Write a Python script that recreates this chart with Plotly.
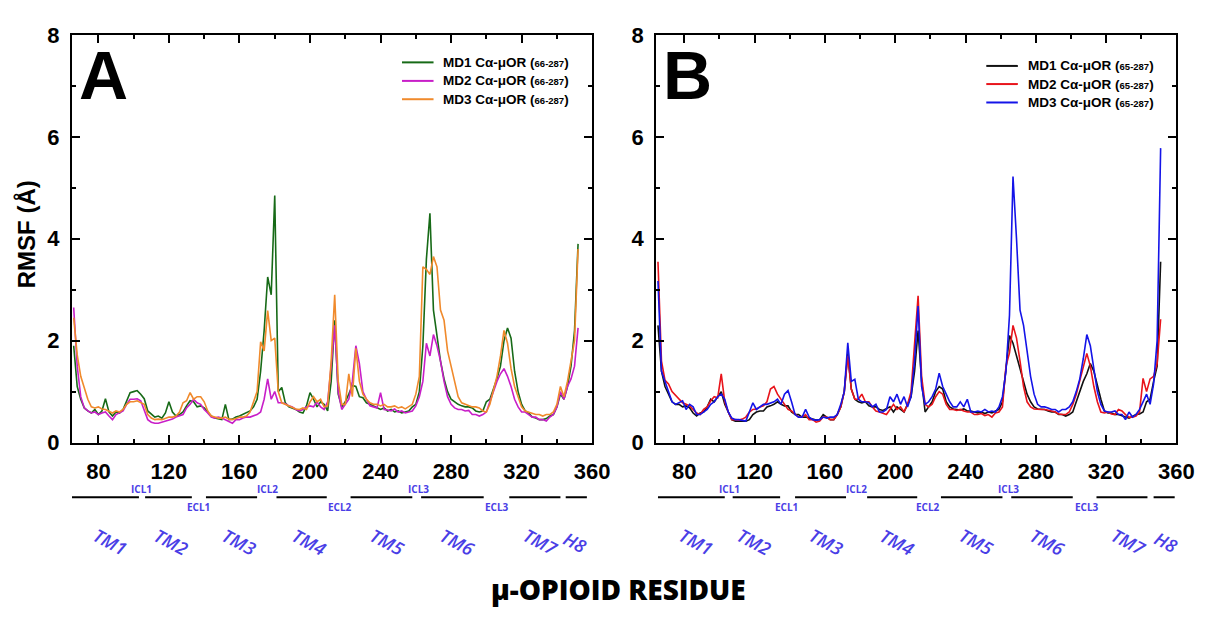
import plotly.graph_objects as go

# Residue numbers sampled along each RMSF profile
residues_a = list(range(66, 353, 2))
residues_b = list(range(65, 352, 2))

# Panel A: C-alpha RMSF (Å), three MD replicas
rmsf_a_md1 = [
    1.90, 1.10, 0.85, 0.68, 0.62, 0.58, 0.65, 0.55, 0.62, 0.86,
    0.60, 0.52, 0.60, 0.58, 0.65, 0.80, 0.98, 1.00, 1.02, 0.95,
    0.86, 0.62, 0.55, 0.50, 0.52, 0.48, 0.58, 0.80, 0.60, 0.52,
    0.55, 0.60, 0.72, 0.82, 0.80, 0.70, 0.72, 0.68, 0.60, 0.52,
    0.48, 0.47, 0.45, 0.75, 0.45, 0.46, 0.50, 0.52, 0.55, 0.58,
    0.62, 0.70, 0.85, 1.40, 2.20, 3.25, 2.90, 4.85, 1.00, 1.08,
    0.78, 0.70, 0.68, 0.65, 0.60, 0.58, 0.72, 0.98, 0.85, 0.70,
    0.80, 0.75, 0.62, 1.20, 2.40, 0.95, 0.70, 0.80, 0.95, 1.12,
    1.10, 0.90, 0.88, 0.78, 0.75, 0.72, 0.68, 0.65, 0.68, 0.62,
    0.65, 0.60, 0.62, 0.58, 0.60, 0.62, 0.70, 0.75, 1.00, 1.90,
    3.60, 4.50, 2.60, 2.10, 1.60, 1.25, 1.00, 0.85, 0.80, 0.75,
    0.72, 0.70, 0.70, 0.68, 0.62, 0.60, 0.62, 0.80, 0.85, 1.05,
    1.25, 1.50, 2.00, 2.25, 2.05, 1.40, 1.00, 0.75, 0.62, 0.58,
    0.50, 0.48, 0.45, 0.45, 0.47, 0.52, 0.55, 0.70, 0.95, 0.85,
    1.10, 1.50, 2.20, 3.90,
]
rmsf_a_md2 = [
    2.65, 1.50, 0.90, 0.68, 0.62, 0.58, 0.60, 0.55, 0.58, 0.60,
    0.52, 0.45, 0.55, 0.58, 0.62, 0.75, 0.85, 0.85, 0.86, 0.82,
    0.65, 0.45, 0.40, 0.38, 0.38, 0.40, 0.42, 0.45, 0.46, 0.50,
    0.52, 0.55, 0.68, 0.75, 0.85, 0.78, 0.75, 0.65, 0.58, 0.50,
    0.48, 0.50, 0.48, 0.45, 0.42, 0.38, 0.45, 0.45, 0.48, 0.50,
    0.50, 0.52, 0.55, 0.60, 0.85, 1.25, 0.85, 1.00, 0.78, 0.78,
    0.76, 0.72, 0.70, 0.65, 0.62, 0.65, 0.70, 0.72, 0.70, 0.80,
    0.70, 0.65, 0.80, 1.50, 2.30, 1.00, 0.65, 0.75, 0.85, 1.20,
    1.90, 1.55, 1.00, 0.85, 0.72, 0.70, 0.68, 0.98, 0.65, 0.64,
    0.62, 0.66, 0.60, 0.62, 0.58, 0.60, 0.62, 0.72, 0.90, 1.20,
    1.95, 1.70, 2.12, 1.90, 1.60, 1.20, 0.90, 0.75, 0.68, 0.65,
    0.65, 0.62, 0.63, 0.55, 0.55, 0.52, 0.55, 0.60, 0.80, 1.00,
    1.20, 1.35, 1.45, 1.30, 1.10, 0.85, 0.70, 0.60, 0.60, 0.55,
    0.50, 0.50, 0.45, 0.45, 0.42, 0.50, 0.55, 0.70, 1.00, 0.85,
    1.10, 1.25, 1.50, 2.25,
]
rmsf_a_md3 = [
    2.45, 1.72, 1.30, 1.05, 0.85, 0.70, 0.68, 0.70, 0.66, 0.65,
    0.62, 0.58, 0.62, 0.60, 0.65, 0.75, 0.80, 0.80, 0.82, 0.78,
    0.75, 0.55, 0.48, 0.45, 0.46, 0.45, 0.48, 0.50, 0.50, 0.52,
    0.60, 0.78, 0.82, 0.98, 0.85, 0.90, 0.90, 0.80, 0.62, 0.52,
    0.50, 0.48, 0.48, 0.50, 0.46, 0.45, 0.47, 0.50, 0.50, 0.52,
    0.60, 0.78, 1.00, 1.98, 1.80, 2.59, 2.00, 2.05, 1.00, 0.78,
    0.75, 0.72, 0.70, 0.66, 0.65, 0.68, 0.65, 0.80, 0.90, 0.80,
    0.85, 0.70, 0.72, 1.60, 2.90, 1.20, 0.75, 0.75, 1.35, 0.90,
    1.85, 1.20, 0.95, 0.85, 0.78, 0.75, 0.75, 0.72, 0.75, 0.70,
    0.70, 0.72, 0.68, 0.70, 0.66, 0.70, 0.75, 0.95, 1.30, 3.45,
    3.40, 3.30, 3.65, 3.45, 2.60, 2.40, 1.80, 1.50, 1.20, 0.90,
    0.78, 0.75, 0.72, 0.70, 0.70, 0.68, 0.62, 0.60, 0.75, 1.00,
    1.30, 1.70, 2.20, 1.95, 1.45, 1.10, 0.90, 0.70, 0.62, 0.60,
    0.58, 0.55, 0.55, 0.52, 0.55, 0.55, 0.60, 0.75, 1.10, 0.90,
    1.20, 1.60, 2.00, 3.80,
]

# Panel B: C-alpha RMSF (Å), three MD replicas
rmsf_b_md1 = [
    2.30, 1.40, 1.10, 0.95, 0.80, 0.75, 0.75, 0.70, 0.72, 0.68,
    0.58, 0.52, 0.58, 0.60, 0.70, 0.85, 0.80, 0.90, 1.00, 0.75,
    0.60, 0.45, 0.42, 0.42, 0.43, 0.42, 0.45, 0.55, 0.60, 0.62,
    0.62, 0.70, 0.72, 0.75, 0.80, 0.75, 0.72, 0.72, 0.60, 0.55,
    0.55, 0.50, 0.50, 0.48, 0.45, 0.44, 0.45, 0.55, 0.50, 0.45,
    0.45, 0.55, 0.70, 1.00, 1.75, 1.05, 0.85, 0.80, 0.78, 0.80,
    0.72, 0.70, 0.70, 0.65, 0.63, 0.66, 0.70, 0.60, 0.70, 0.65,
    0.60, 0.75, 0.90, 1.40, 2.20, 1.20, 0.60, 0.70, 0.80, 1.00,
    1.10, 1.05, 0.80, 0.70, 0.66, 0.65, 0.64, 0.66, 0.62, 0.62,
    0.60, 0.58, 0.60, 0.57, 0.60, 0.58, 0.62, 0.65, 0.80, 1.40,
    2.10, 1.95, 1.70, 1.50, 1.20, 0.95, 0.80, 0.70, 0.66, 0.65,
    0.65, 0.62, 0.60, 0.60, 0.55, 0.55, 0.52, 0.55, 0.60, 0.80,
    1.00, 1.20, 1.35, 1.55, 1.40, 1.10, 0.85, 0.62, 0.58, 0.58,
    0.55, 0.55, 0.52, 0.50, 0.48, 0.52, 0.55, 0.56, 0.60, 0.80,
    0.85, 1.20, 1.50, 3.55,
]
rmsf_b_md2 = [
    3.55, 1.60, 1.22, 1.15, 1.00, 0.92, 0.85, 0.78, 0.75, 0.72,
    0.65, 0.58, 0.55, 0.65, 0.70, 0.82, 0.90, 0.88, 1.35, 0.80,
    0.60, 0.45, 0.45, 0.44, 0.46, 0.50, 0.60, 0.65, 0.66, 0.70,
    0.72, 0.80, 1.05, 1.10, 0.95, 0.85, 0.75, 0.65, 0.62, 0.55,
    0.50, 0.50, 0.55, 0.45, 0.45, 0.40, 0.42, 0.50, 0.50, 0.45,
    0.45, 0.55, 0.70, 1.00, 1.70, 1.05, 0.85, 0.85, 0.95, 0.80,
    0.80, 0.70, 0.62, 0.60, 0.58, 0.55, 0.65, 0.75, 0.65, 0.70,
    0.60, 0.75, 1.00, 1.90, 2.88, 1.30, 0.75, 0.70, 0.75, 0.90,
    1.00, 0.95, 0.75, 0.65, 0.65, 0.63, 0.65, 0.62, 0.60, 0.60,
    0.55, 0.55, 0.57, 0.53, 0.55, 0.50, 0.58, 0.60, 0.70, 1.50,
    1.76, 2.30, 2.05, 1.60, 1.10, 0.80, 0.70, 0.66, 0.65, 0.65,
    0.65, 0.64, 0.62, 0.60, 0.56, 0.55, 0.55, 0.60, 0.75, 0.95,
    1.20, 1.50, 1.75, 1.50, 1.10, 0.80, 0.60, 0.58, 0.60, 0.56,
    0.55, 0.65, 0.62, 0.55, 0.50, 0.50, 0.52, 0.60, 1.26, 1.00,
    1.25, 1.30, 1.55, 2.42,
]
rmsf_b_md3 = [
    3.17, 1.40, 1.20, 1.00, 0.80, 0.75, 0.78, 0.82, 0.65, 0.75,
    0.70, 0.55, 0.55, 0.60, 0.65, 0.75, 0.80, 0.90, 0.95, 0.85,
    0.60, 0.48, 0.45, 0.45, 0.44, 0.42, 0.60, 0.78, 0.65, 0.70,
    0.75, 0.75, 0.78, 0.80, 0.85, 0.75, 0.95, 1.02, 0.80, 0.55,
    0.50, 0.50, 0.65, 0.50, 0.45, 0.44, 0.45, 0.50, 0.48, 0.50,
    0.50, 0.55, 0.75, 1.00, 1.96, 1.20, 1.24, 0.85, 0.80, 0.80,
    0.78, 0.70, 0.75, 0.60, 0.60, 0.65, 0.90, 0.80, 0.95, 0.75,
    0.90, 0.70, 0.90, 1.60, 2.68, 1.10, 0.75, 0.80, 0.90, 1.05,
    1.36, 1.10, 0.95, 0.80, 0.70, 0.70, 0.80, 0.70, 0.85, 0.60,
    0.60, 0.62, 0.60, 0.65, 0.60, 0.62, 0.60, 0.70, 0.90, 1.40,
    2.50, 5.22, 4.00, 2.60, 2.30, 1.80, 1.30, 0.95, 0.75, 0.70,
    0.70, 0.68, 0.65, 0.65, 0.60, 0.65, 0.65, 0.70, 0.80, 1.00,
    1.25, 1.65, 2.12, 1.90, 1.40, 1.00, 0.75, 0.62, 0.60, 0.60,
    0.62, 0.55, 0.55, 0.45, 0.60, 0.50, 0.55, 0.65, 0.80, 0.95,
    0.75, 1.15, 2.00, 5.78,
]

series_labels_a = ["MD1 C\u03b1-\u03bcOR", "MD2 C\u03b1-\u03bcOR", "MD3 C\u03b1-\u03bcOR"]
series_labels_b = ["MD1 C\u03b1-\u03bcOR", "MD2 C\u03b1-\u03bcOR", "MD3 C\u03b1-\u03bcOR"]
residue_range_a = "66-287"
residue_range_b = "65-287"
colors_a = ["#176a17", "#c81ec8", "#f08a2c"]
colors_b = ["#111111", "#e8141b", "#1414e8"]

# Receptor topology bars drawn under each panel (residue spans)
helix_labels = ["TM1", "TM2", "TM3", "TM4", "TM5", "TM6", "TM7", "H8"]
helix_spans_a = [(65, 103), (106.5, 133), (141, 170), (181, 209.5),
                 (223, 258), (263, 298.5), (313, 342), (345, 357)]
helix_spans_b = [(65, 103), (107.5, 134.5), (143, 172), (184, 212.5),
                 (226, 261), (266, 301), (314.5, 343.5), (347, 359)]
helix_label_pos_a = [87, 121.5, 160, 199.5, 244, 283.5, 331, 350]
helix_label_pos_b = [87, 120, 161, 201, 246.5, 286.5, 333, 354]
loop_labels = ["ICL1", "ECL1", "ICL2", "ECL2", "ICL3", "ECL3"]
loop_pos_a = [104.7, 136.8, 176, 216.9, 261.6, 306.3]
loop_pos_b = [105.7, 137.9, 177.8, 218.7, 264.2, 309]

W, H = 1225, 618
TOPO_BLUE = "#4a3ee6"


def legend_text(label, rng):
    return f"{label} (<span style='font-size:9.5px'>{rng}</span>)"


fig = go.Figure()

for vals, label, color in zip([rmsf_a_md1, rmsf_a_md2, rmsf_a_md3], series_labels_a, colors_a):
    fig.add_trace(go.Scatter(x=residues_a, y=vals, mode="lines",
                             name=f"{label} ({residue_range_a})",
                             line=dict(color=color, width=1.6),
                             xaxis="x", yaxis="y", showlegend=False))
for vals, label, color in zip([rmsf_b_md1, rmsf_b_md2, rmsf_b_md3], series_labels_b, colors_b):
    fig.add_trace(go.Scatter(x=residues_b, y=vals, mode="lines",
                             name=f"{label} ({residue_range_b})",
                             line=dict(color=color, width=1.6),
                             xaxis="x2", yaxis="y2", showlegend=False))

tick_font = dict(family="Liberation Sans, Arial", size=22, color="black", weight="bold")
common_axis = dict(showline=True, linecolor="black", linewidth=2, mirror="allticks",
                   ticks="inside", ticklen=8, tickwidth=1.5, tickcolor="black",
                   showgrid=False, zeroline=False, tickfont=tick_font)

y_dom = [1 - 448.7 / H, 1 - 24 / H]
x_axis_common = dict(common_axis, dtick=40, tick0=0, ticklabelstandoff=8,
                     minor=dict(ticks="inside", ticklen=4, tickwidth=1.5,
                                tickcolor="black", dtick=20, tick0=0, showgrid=False))
y_axis_common = dict(common_axis, range=[0, 8], dtick=2, tick0=0, ticklabelstandoff=6,
                     domain=y_dom,
                     minor=dict(ticks="inside", ticklen=4, tickwidth=1.5,
                                tickcolor="black", dtick=1, tick0=0, showgrid=False))

fig.update_layout(
    width=W, height=H,
    margin=dict(l=0, r=0, t=0, b=0),
    paper_bgcolor="white", plot_bgcolor="white",
    xaxis=dict(x_axis_common, domain=[73 / W, 601 / W], range=[65, 360], anchor="y"),
    yaxis=dict(y_axis_common, anchor="x"),
    xaxis2=dict(x_axis_common, domain=[666 / W, 1194 / W], range=[64, 360], anchor="y2"),
    yaxis2=dict(y_axis_common, anchor="x2"),
    showlegend=False,
)

annotations = []
shapes = []

# Legend keys for each panel
legend_font = dict(family="Liberation Sans, Arial", size=13.5, color="black", weight="bold")
for labels, rng, colors, x_line, x_text, rows in [
        (series_labels_a, residue_range_a, colors_a, (408, 440), 448, (52.5, 71.8, 90.9)),
        (series_labels_b, residue_range_b, colors_b, (1001, 1033), 1041, (56.2, 75.1, 94.3))]:
    for label, color, yy in zip(labels, colors, rows):
        shapes.append(dict(type="line", xref="paper", yref="paper",
                           x0=x_line[0] / W, x1=x_line[1] / W, y0=1 - yy / H, y1=1 - yy / H,
                           line=dict(color=color, width=2)))
        annotations.append(dict(text=legend_text(label, rng), x=x_text / W, y=1 - yy / H,
                                xref="paper", yref="paper", xanchor="left", yanchor="middle",
                                showarrow=False, font=legend_font))

# Panel letters
for letter, xc in [("A", 105.5), ("B", 698)]:
    annotations.append(dict(text=letter, x=xc / W, y=1 - 66 / H, xref="paper", yref="paper",
                            xanchor="center", yanchor="middle", showarrow=False,
                            font=dict(family="Liberation Sans, Arial", size=68,
                                      color="black", weight="bold")))

# Y axis title
annotations.append(dict(text="RMSF (\u00c5)", x=27 / W, y=1 - 232 / H, xref="paper", yref="paper",
                        xanchor="center", yanchor="middle", textangle=-90, showarrow=False,
                        font=dict(family="Liberation Sans, Arial", size=24,
                                  color="black", weight="bold")))

# Shared x title
annotations.append(dict(text="\u03bc-OPIOID RESIDUE", x=628 / W, y=1 - 601 / H,
                        xref="paper", yref="paper", xanchor="center", yanchor="middle",
                        showarrow=False,
                        font=dict(family="Open Sans", size=28, color="black", weight=800)))

bar_y = 1 - 505.8 / H
icl_y = 1 - 497 / H
ecl_y = 1 - 516 / H
tm_y = 1 - 552 / H

for xref, spans, label_pos, loop_pos in [("x", helix_spans_a, helix_label_pos_a, loop_pos_a),
                                         ("x2", helix_spans_b, helix_label_pos_b, loop_pos_b)]:
    for (r0, r1) in spans:
        shapes.append(dict(type="line", xref=xref, yref="paper", x0=r0, x1=r1,
                           y0=bar_y, y1=bar_y, line=dict(color="black", width=2)))
    for lab, pos in zip(helix_labels, label_pos):
        annotations.append(dict(text=lab, x=pos, y=tm_y, xref=xref, yref="paper",
                                xanchor="center", yanchor="middle", textangle=28,
                                showarrow=False,
                                font=dict(family="Open Sans", size=18, color=TOPO_BLUE,
                                          weight=600, style="italic")))
    for lab, pos in zip(loop_labels, loop_pos):
        annotations.append(dict(text=lab, x=pos, y=icl_y if lab.startswith("I") else ecl_y,
                                xref=xref, yref="paper", xanchor="center", yanchor="middle",
                                showarrow=False,
                                font=dict(family="Open Sans", size=10, color=TOPO_BLUE,
                                          weight="bold")))

fig.update_layout(annotations=annotations, shapes=shapes)

fig.write_html("out.html")
